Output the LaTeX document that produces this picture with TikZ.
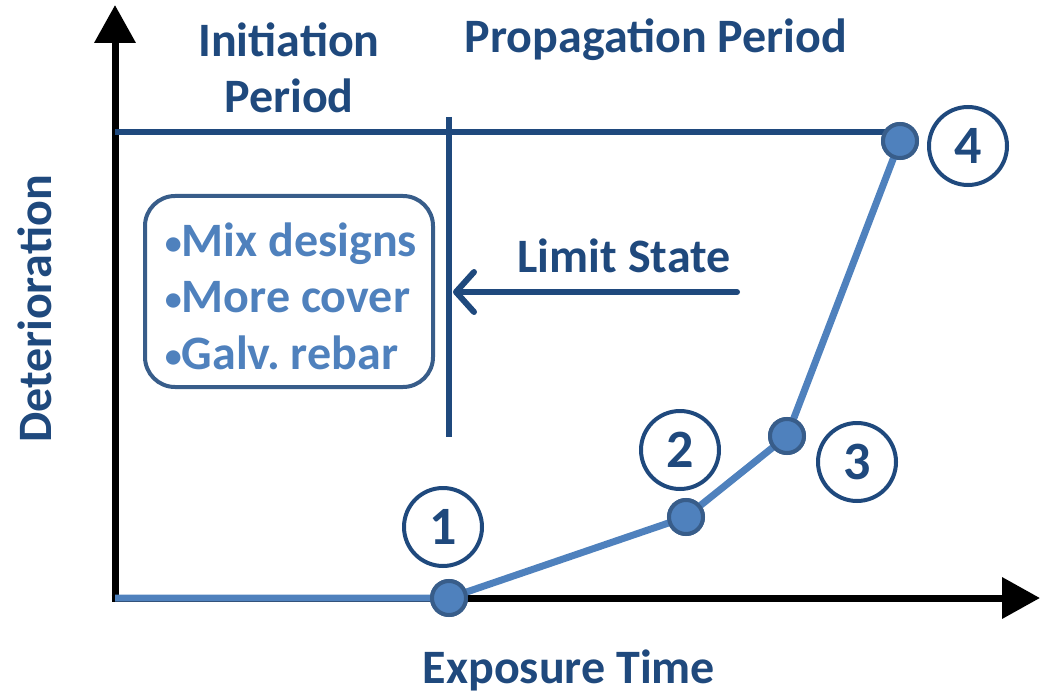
\documentclass[tikz,border=0pt]{standalone}
\usepackage{fontspec}
\setmainfont{Carlito}
\usetikzlibrary{arrows.meta}
\definecolor{dk}{RGB}{31,73,125}
\definecolor{lt}{RGB}{79,129,189}
\definecolor{bd}{RGB}{56,93,138}
\newcommand{\smbul}{{\fontsize{34}{34}\selectfont\raisebox{2pt}{\textbullet}}}
\tikzset{
  axis/.style={line width=7pt,-{Triangle[width=40pt,length=38pt]}},
  curve/.style={line width=7pt,lt},
  dot/.style={circle,fill=lt,draw=bd,line width=4pt,minimum size=34pt,inner sep=0pt},
  numc/.style={circle,draw=dk,line width=4pt,minimum size=78pt,inner sep=0pt,text=dk,font=\fontsize{54}{54}\selectfont\bfseries},
  lab/.style={text=dk,font=\fontsize{48}{56}\selectfont\bfseries,align=center},
  dline/.style={line width=6pt,dk},
}
\begin{document}
\begin{tikzpicture}[x=1pt,y=-1pt]
\useasboundingbox (0,0) rectangle (1041,695);
% axes
\coordinate (O) at (115,598);
\coordinate (Ytop) at (115,5);
\coordinate (Xend) at (1040,598);
\draw[axis] (115,601.5) -- (Ytop);
\draw[axis] (111.5,598) -- (Xend);
% limit lines
\coordinate (H0) at (115,132);
\coordinate (H1) at (893,132);
\coordinate (V0) at (449,117);
\coordinate (V1) at (449,437);
\draw[dline] (V0) -- (V1);
\draw[dline] (H0) -- (H1);
% dots
\node[dot] (d1) at (449,598) {};
\node[dot] (d2) at (686,517) {};
\node[dot] (d3) at (787,436) {};
\node[dot] (d4) at (900,141) {};
\draw[curve] (O) -- (d1.center) -- (d2.center) -- (d3.center) -- (d4.center);
\node[dot] at (449,598) {};
\node[dot] at (686,517) {};
\node[dot] at (787,436) {};
\node[dot] at (900,141) {};
% numbers
\node[numc] (n1) at (443,527) {1};
\node[numc] (n2) at (680,450) {2};
\node[numc] (n3) at (857,462) {3};
\node[numc] (n4) at (968,146) {4};
% limit state arrow
\coordinate (LS) at (737,292);
\draw[dline,line cap=round,-{Straight Barb[length=18pt,width=40pt,line cap=round,line join=round]}] (LS) -- (453,292);
\node[lab] (lst) at (624,256) {Limit State};
% box
\node[draw=bd,line width=4pt,rounded corners=30pt,minimum width=288pt,minimum height=191pt,
  inner sep=0pt] (box) at (289,291.5) {};
\node[text=lt,font=\fontsize{48}{56.5}\selectfont\bfseries,align=left,inner sep=0pt] (boxt) at (291,296)
  {\smbul Mix designs\\ \smbul More cover\\ \smbul Galv.\ rebar};
% labels
\node[lab] (ip) at (289,68) {Initiation\\Period};
\node[lab] (pp) at (656,40) {Propagation Period};
\node[lab] (et) at (569,670) {Exposure Time};
\node[lab,rotate=90] (de) at (35,309) {Deterioration};
\end{tikzpicture}
\end{document}
